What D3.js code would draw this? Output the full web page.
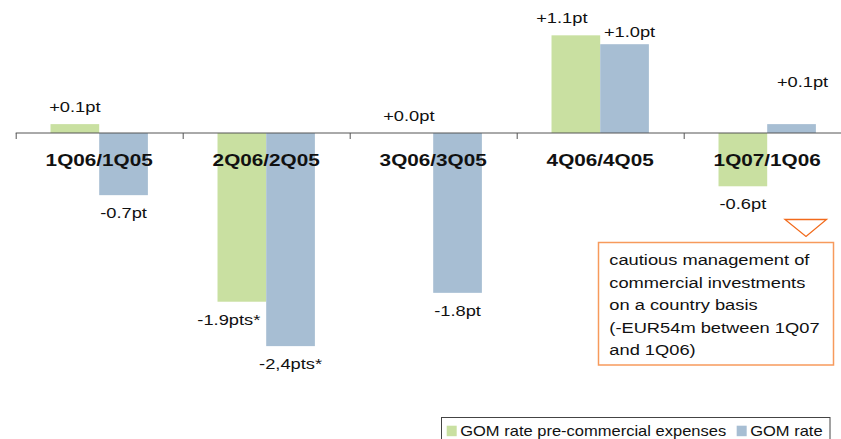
<!DOCTYPE html>
<html>
<head>
<meta charset="utf-8">
<script src="https://cdn.jsdelivr.net/npm/d3@7"></script>
<style>
  html, body { margin: 0; padding: 0; background: #fff; }
  svg { display: block; font-family: Arial, "Liberation Sans", sans-serif; }
</style>
</head>
<body>
<svg id="chart" width="841" height="439"></svg>
<script>
// chart data
const categories = ["1Q06/1Q05", "2Q06/2Q05", "3Q06/3Q05", "4Q06/4Q05", "1Q07/1Q06"];
const seriesNames = ["GOM rate pre-commercial expenses", "GOM rate"];
const preCommercial = [0.1, -1.9, 0.0, 1.1, -0.6];
const gomRate = [-0.7, -2.4, -1.8, 1.0, 0.1];
const preCommercialLabels = ["+0.1pt", "-1.9pts*", "+0.0pt", "+1.1pt", "-0.6pt"];
const gomRateLabels = ["-0.7pt", "-2,4pts*", "-1.8pt", "+1.0pt", "+0.1pt"];
const calloutLines = ["cautious management of", "commercial investments", "on a country basis",
                      "(-EUR54m between 1Q07", "and 1Q06)"];

// the original picture is stretched sideways, text too
const stretch = 1.18;
const colors = ["#c9e0a1", "#a7bed3"];

// a few labels were moved by hand in the original
const labelNudge = {
    "0-1": [-13, 0],
    "0-3": [-14, 0],
    "1-3": [5, 5],
    "1-4": [11, -25]
};

const svg = d3.select("#chart");
const axisY = 133;

let x = d3.scaleBand()
    .domain(categories)
    .range([15.7, 850.7])
    .padding(0);

let xInner = d3.scaleBand()
    .domain([0, 1])
    .range([0, x.bandwidth()])
    .paddingInner(0)
    .paddingOuter(0.715);

let y = d3.scaleLinear()
    .domain([-2.5, 1.5])
    .range([axisY + 2.5 * 88.8, axisY - 1.5 * 88.8]);

function stretchedText(g, tx, ty, str) {
    return g.append("text")
        .attr("transform", "translate(" + tx + "," + ty + ") scale(" + stretch + ",1)")
        .text(str);
}

let rows = [];
categories.forEach(function(c, i) {
    rows.push({cat: c, s: 0, v: preCommercial[i], label: preCommercialLabels[i], i: i});
    rows.push({cat: c, s: 1, v: gomRate[i], label: gomRateLabels[i], i: i});
});

// bars
svg.append("g").attr("class", "bars")
    .selectAll("rect")
    .data(rows)
    .enter().append("rect")
    .attr("x", d => x(d.cat) + xInner(d.s))
    .attr("y", d => y(Math.max(0, d.v)))
    .attr("width", xInner.bandwidth())
    .attr("height", d => Math.abs(y(d.v) - y(0)))
    .style("fill", d => colors[d.s]);

// axis with ticks on category boundaries
let xAxis = d3.axisBottom(x).tickSize(0);
let axisG = svg.append("g")
    .attr("transform", "translate(0," + axisY + ")")
    .call(xAxis);
axisG.select(".domain").attr("stroke", "#555").attr("d", "M" + x.range()[0] + ",0H841");
axisG.selectAll(".tick text")
    .attr("y", 0).attr("dy", 0)
    .attr("transform", "translate(0,33) scale(1.22,1)")
    .style("font-family", "Arial, 'Liberation Sans', sans-serif")
    .style("font-size", "17px")
    .style("font-weight", "bold")
    .attr("fill", "#111");
axisG.selectAll(".bound")
    .data(categories)
    .enter().append("line")
    .attr("class", "bound")
    .attr("x1", d => x(d) + 0.5).attr("x2", d => x(d) + 0.5)
    .attr("y1", 0).attr("y2", 6)
    .attr("stroke", "#555");

// value labels
let labelG = svg.append("g")
    .style("font-size", "15.5px")
    .attr("fill", "#111")
    .attr("text-anchor", "middle");
rows.forEach(function(d) {
    let nudge = labelNudge[d.s + "-" + d.i] || [0, 0];
    let cx = x(d.cat) + xInner(d.s) + xInner.bandwidth() / 2 + nudge[0];
    let ty = d.v >= 0 ? y(d.v) - 12 : y(d.v) + 23;
    stretchedText(labelG, cx, ty + nudge[1], d.label);
});

// callout
let callout = svg.append("g");
callout.append("rect")
    .attr("x", 598.5).attr("y", 242.5)
    .attr("width", 235).attr("height", 122.5)
    .attr("fill", "#fff")
    .attr("stroke", "#f79a5c")
    .attr("stroke-width", 1.5);
callout.append("path")
    .attr("d", "M785,219.5L826.5,219.5L806,236.5Z")
    .attr("fill", "#fff")
    .attr("stroke", "#f26a1b")
    .attr("stroke-width", 1.3);
let calloutText = callout.append("g")
    .style("font-size", "15.5px")
    .attr("fill", "#111");
calloutLines.forEach(function(line, i) {
    stretchedText(calloutText, 609.3, 265 + i * 22.6, line);
});

// legend
let legend = svg.append("g");
legend.append("rect")
    .attr("x", 441.5).attr("y", 417.5)
    .attr("width", 388.5).attr("height", 30)
    .attr("fill", "#fff")
    .attr("stroke", "#444");
let lx = 446.7;
seriesNames.forEach(function(name, i) {
    legend.append("rect")
        .attr("x", lx).attr("y", 425.7)
        .attr("width", 10).attr("height", 10.5)
        .attr("fill", colors[i]);
    let t = stretchedText(legend, lx + 13.5, 435.7, name)
        .style("font-size", "14px")
        .attr("fill", "#111");
    lx += 13.5 + t.node().getComputedTextLength() * stretch + 10.5;
});
</script>
</body>
</html>
